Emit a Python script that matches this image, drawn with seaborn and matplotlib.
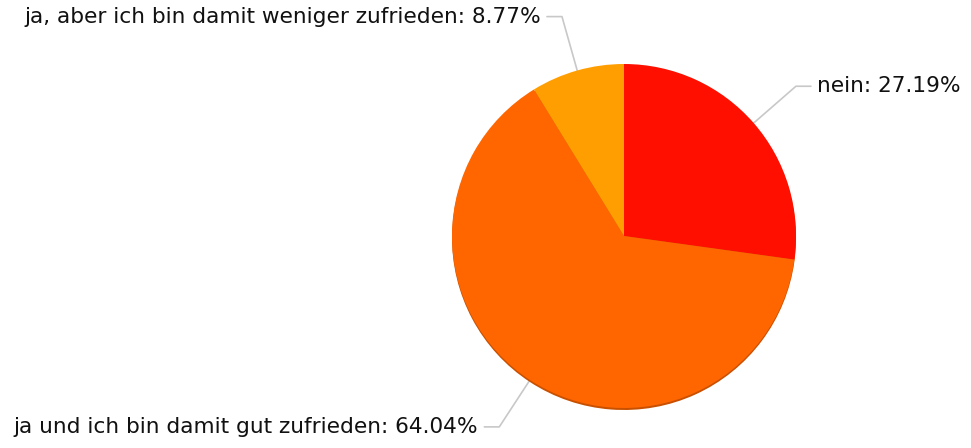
import numpy as np
import matplotlib
matplotlib.use("Agg")
import matplotlib.pyplot as plt
import seaborn as sns

sns.set_theme(style="white")
plt.rcParams['font.family'] = ['DejaVu Sans']

# Daten
labels = ["nein", "ja und ich bin damit gut zufrieden", "ja, aber ich bin damit weniger zufrieden"]
values = [27.19, 64.04, 8.77]
colors = ["#FF0F00", "#FF6600", "#FF9E01"]

W, H = 971, 448
fig = plt.figure(figsize=(W / 100, H / 100), dpi=100)
ax = fig.add_axes([0, 0, 1, 1])

cx, cy, r = 624, H - 236, 172

# leichter Schatten unten
ax.pie(values, colors=["#C85000"] * 3, startangle=90, counterclock=False,
       center=(cx, cy - 2), radius=r, frame=True,
       wedgeprops=dict(linewidth=0))
wedges, _ = ax.pie(values, colors=colors, startangle=90, counterclock=False,
                   center=(cx, cy), radius=r, frame=True,
                   wedgeprops=dict(linewidth=0))
ax.set_xlim(0, W)
ax.set_ylim(0, H)
ax.axis("off")

for w, lab, val in zip(wedges, labels, values):
    ang = np.deg2rad((w.theta1 + w.theta2) / 2)
    x0, y0 = cx + r * np.cos(ang), cy + r * np.sin(ang)
    x1, y1 = cx + 228 * np.cos(ang), cy + 228 * np.sin(ang)
    side = 1 if np.cos(ang) > 0 else -1
    x2 = x1 + side * 15
    ax.plot([x0, x1, x2], [y0, y1, y1], color="#c8c8c8", lw=1.2, zorder=0)
    ax.text(x2 + side * 6, y1, f"{lab}: {val:.2f}%", fontsize=15.6,
            color="#111111", ha="left" if side > 0 else "right", va="center")

fig.savefig("out.png", dpi=100)
